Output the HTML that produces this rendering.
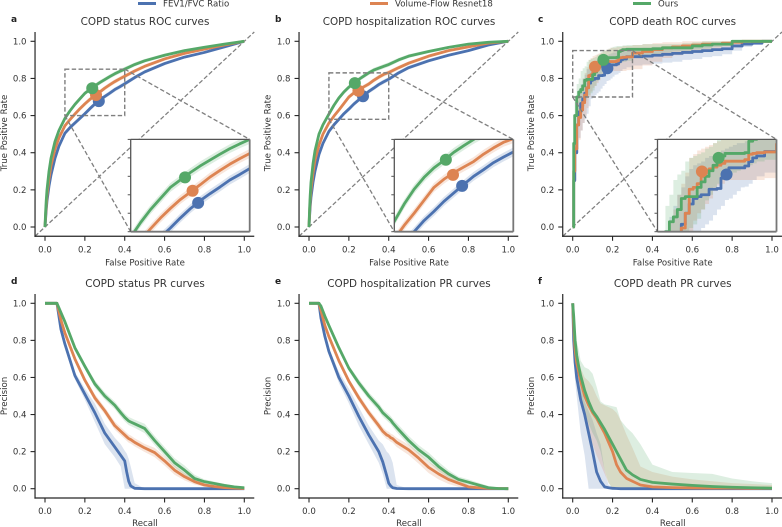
<!DOCTYPE html>
<html>
<head>
<meta charset="utf-8">
<title>COPD ROC and PR curves</title>
<style>
html,body{margin:0;padding:0;background:#fff;width:782px;height:527px;overflow:hidden}
svg{display:block;filter:blur(0.35px)}
text{font-family:"DejaVu Sans","Liberation Sans",sans-serif;fill:#333}
.title{font-size:10.4px;text-anchor:middle}
.axl{font-size:8.6px;text-anchor:middle}
.letter{font-size:9px;font-weight:bold;fill:#222}
.leg{font-size:8.6px}
.tick{font-size:8.6px}
</style>
</head>
<body>
<svg id="fig" xmlns="http://www.w3.org/2000/svg" width="782" height="527" viewBox="0 0 782 527">
<rect width="782" height="527" fill="#fff"/>
<g>
<line x1="138" x2="156" y1="3.5" y2="3.5" stroke="#4C72B0" stroke-width="3"/>
<text class="leg" x="163" y="6.5">FEV1/FVC Ratio</text>
<line x1="370" x2="388" y1="3.5" y2="3.5" stroke="#DD8452" stroke-width="3"/>
<text class="leg" x="395" y="6.5">Volume-Flow Resnet18</text>
<line x1="633" x2="651" y1="3.5" y2="3.5" stroke="#55A868" stroke-width="3"/>
<text class="leg" x="658" y="6.5">Ours</text>
</g>
<g id="plots"></g>
<text class="letter" x="11" y="22">a</text>
<text class="letter" x="275" y="22">b</text>
<text class="letter" x="538" y="22">c</text>
<text class="letter" x="11" y="284">d</text>
<text class="letter" x="275" y="284">e</text>
<text class="letter" x="538" y="284">f</text>
<text class="title" x="145" y="25">COPD status ROC curves</text>
<text class="title" x="409" y="25">COPD hospitalization ROC curves</text>
<text class="title" x="672.7" y="25">COPD death ROC curves</text>
<text class="title" x="145" y="287">COPD status PR curves</text>
<text class="title" x="409" y="287">COPD hospitalization PR curves</text>
<text class="title" x="672.7" y="287">COPD death PR curves</text>
<text class="axl" x="145" y="265.5">False Positive Rate</text>
<text class="axl" x="409" y="265.5">False Positive Rate</text>
<text class="axl" x="672.7" y="265.5">False Positive Rate</text>
<text class="axl" x="145" y="526">Recall</text>
<text class="axl" x="409" y="526">Recall</text>
<text class="axl" x="672.7" y="526">Recall</text>
<text class="axl" transform="translate(7,133) rotate(-90)">True Positive Rate</text>
<text class="axl" transform="translate(270.5,133) rotate(-90)">True Positive Rate</text>
<text class="axl" transform="translate(534,133) rotate(-90)">True Positive Rate</text>
<text class="axl" transform="translate(7,396) rotate(-90)">Precision</text>
<text class="axl" transform="translate(270.5,396) rotate(-90)">Precision</text>
<text class="axl" transform="translate(534,396) rotate(-90)">Precision</text>
</svg>
<script>
// ---------- tick labels ----------
const tickValues = [0, 0.2, 0.4, 0.6, 0.8, 1.0];
const tickLabels = ["0.0", "0.2", "0.4", "0.6", "0.8", "1.0"];

// ---------- panel a / b: ROC grid ----------
const rocGrid = [0,.003,.006,.01,.02,.03,.05,.07,.1,.125,.15,.175,.2,.225,.25,.275,.3,.325,.35,.375,.4,.45,.5,.6,.7,.8,.9,1];
const rocBandWidth = [0,.006,.008,.01,.012,.012,.012,.012,.012,.012,.012,.012,.012,.012,.012,.012,.012,.012,.012,.012,.012,.011,.01,.009,.007,.005,.003,0];

const rocABlue = [0,.045,.09,.14,.22,.28,.37,.435,.505,.535,.56,.585,.61,.637,.662,.684,.703,.721,.74,.755,.771,.805,.835,.88,.915,.94,.97,1];
const rocAOrange = [0,.06,.11,.17,.26,.33,.42,.48,.545,.578,.608,.637,.663,.687,.707,.727,.748,.766,.783,.798,.812,.84,.865,.905,.935,.958,.98,1];
const rocAGreen = [0,.08,.14,.2,.3,.37,.46,.52,.585,.625,.66,.69,.72,.74,.76,.778,.794,.81,.825,.838,.85,.875,.895,.925,.95,.968,.985,1];
const rocAMarkerFpr = [.27,.256,.237];
const rocAMarkerTpr = [.678,.711,.747];

const rocBBlue = [0,.06,.11,.16,.24,.3,.39,.45,.515,.55,.58,.61,.635,.662,.685,.708,.73,.748,.767,.782,.796,.83,.858,.895,.925,.95,.98,1];
const rocBOrange = [0,.08,.14,.2,.29,.36,.44,.5,.56,.597,.63,.665,.7,.722,.74,.755,.77,.79,.807,.822,.832,.858,.882,.92,.95,.97,.99,1];
const rocBGreen = [0,.1,.17,.24,.34,.41,.5,.55,.608,.655,.695,.727,.753,.773,.795,.813,.83,.845,.855,.865,.875,.9,.92,.945,.967,.985,.995,1];
const rocBMarkerFpr = [.271,.248,.23];
const rocBMarkerTpr = [.704,.734,.775];

// ---------- panel c: ROC (stepped) ----------
const rocCGrid = [0,.005,.01,.02,.03,.04,.05,.06,.07,.08,.09,.1,.11,.12,.13,.14,.15,.16,.17,.18,.19,.2,.21,.22,.23,.24,.25,.27,.3,.35,.4,.45,.5,.55,.6,.65,.7,.75,.8,.85,.9,.95,1];
const rocCBlue = [0,.25,.4,.55,.62,.665,.69,.72,.75,.775,.79,.795,.8,.8,.815,.815,.817,.845,.865,.873,.873,.873,.873,.878,.89,.9,.905,.917,.917,.92,.925,.93,.935,.94,.945,.95,.955,.96,.975,.985,.99,1,1];
const rocCBlueHi = [0,.4,.55,.68,.74,.77,.8,.82,.85,.87,.88,.885,.89,.9,.905,.905,.91,.92,.925,.93,.935,.94,.94,.945,.945,.95,.95,.955,.96,.965,.97,.97,.975,.975,.98,.985,.985,.99,.995,1,1,1,1];
const rocCBlueLo = [0,.12,.25,.4,.48,.52,.56,.58,.61,.65,.69,.7,.71,.72,.73,.745,.76,.77,.786,.79,.8,.81,.82,.822,.83,.84,.85,.86,.87,.875,.88,.885,.89,.9,.905,.915,.92,.93,.95,.97,.98,1,1];
const rocCOrange = [0,.3,.42,.55,.59,.63,.67,.71,.75,.815,.82,.83,.85,.865,.87,.875,.88,.885,.891,.891,.891,.891,.891,.895,.91,.912,.914,.916,.937,.945,.955,.965,.97,.975,.98,.985,.985,.99,.995,1,1,1,1];
const rocCOrangeHi = [0,.42,.55,.7,.73,.76,.8,.83,.86,.9,.91,.92,.925,.93,.935,.94,.945,.95,.955,.96,.965,.965,.965,.97,.97,.97,.975,.975,.98,.985,.99,.995,.995,1,1,1,1,1,1,1,1,1,1];
const rocCOrangeLo = [0,.2,.3,.42,.47,.52,.56,.6,.64,.7,.73,.75,.76,.775,.79,.81,.825,.83,.84,.84,.84,.84,.84,.84,.84,.84,.84,.845,.85,.87,.89,.91,.925,.94,.945,.95,.96,.97,.98,1,1,1,1];
const rocCGreen = [0,.45,.6,.7,.727,.74,.76,.79,.795,.795,.795,.82,.835,.85,.865,.88,.9,.905,.912,.912,.912,.912,.912,.914,.945,.95,.955,.957,.957,.957,.96,.965,.965,.965,.975,.98,.985,.985,1,1,1,1,1];
const rocCGreenHi = [0,.55,.68,.77,.8,.84,.855,.865,.89,.9,.905,.91,.915,.925,.93,.94,.95,.95,.955,.96,.965,.97,.972,.975,.975,.975,.978,.98,.98,.985,.985,.985,.985,.99,.995,1,1,1,1,1,1,1,1];
const rocCGreenLo = [0,.3,.45,.55,.6,.62,.65,.68,.7,.71,.72,.735,.76,.785,.8,.82,.83,.84,.85,.855,.86,.865,.87,.875,.88,.885,.89,.895,.91,.92,.93,.94,.945,.945,.955,.96,.97,.975,1,1,1,1,1];
const rocCMarkerFpr = [.174,.112,.154];
const rocCMarkerTpr = [.855,.863,.9];

// ---------- panel d: PR ----------
const prDGrid = [0,.02,.04,.06,.08,.1,.15,.2,.25,.3,.35,.38,.4,.41,.42,.43,.45,.5,.55,.6,.65,.7,.75,.8,.85,.9,.95,1];
const prDBlue = [1,1,1,1,.86,.78,.61,.51,.41,.3,.225,.18,.15,.09,.04,.015,.002,0,0,0,0,0,0,0,0,0,0,0];
const prDBlueHi = [1,1,1,1,.87,.8,.63,.54,.46,.35,.275,.24,.205,.19,.16,.12,.03,0,0,0,0,0,0,0,0,0,0,0];
const prDBlueLo = [1,1,1,1,.85,.76,.59,.48,.36,.24,.17,.12,0,0,0,0,0,0,0,0,0,0,0,0,0,0,0,0];
const prDOrange = [1,1,1,1,.91,.84,.7,.585,.49,.42,.34,.31,.29,.28,.27,.265,.25,.22,.195,.15,.1,.065,.038,.02,.012,.006,.003,.001];
const prDOrangeBand = [0,0,0,.002,.01,.012,.015,.015,.02,.02,.022,.022,.022,.022,.022,.022,.022,.022,.025,.025,.025,.02,.015,.01,.006,.004,.002,.001];
const prDGreen = [1,1,1,1,.95,.9,.76,.66,.565,.5,.45,.41,.385,.375,.365,.36,.35,.325,.26,.2,.14,.1,.055,.038,.028,.018,.01,.005];
const prDGreenBand = [0,0,0,.002,.01,.012,.015,.015,.02,.02,.02,.022,.022,.022,.022,.022,.022,.025,.025,.025,.025,.025,.02,.012,.01,.008,.005,.003];

// ---------- panel e: PR ----------
const prEGrid = [0,.02,.04,.05,.06,.08,.1,.15,.2,.25,.3,.35,.37,.39,.4,.41,.42,.44,.5,.55,.6,.65,.7,.75,.8,.85,.9,.95,1];
const prEBlue = [1,1,1,1,.92,.82,.74,.6,.5,.39,.29,.2,.145,.07,.03,.015,.005,.001,0,0,0,0,0,0,0,0,0,0,0];
const prEBlueHi = [1,1,1,1,.93,.84,.76,.63,.54,.44,.34,.26,.24,.2,.19,.17,.14,.02,0,0,0,0,0,0,0,0,0,0,0];
const prEBlueLo = [1,1,1,1,.91,.8,.72,.57,.46,.34,.24,.14,.08,0,0,0,0,0,0,0,0,0,0,0,0,0,0,0,0];
const prEOrange = [1,1,1,1,.96,.88,.82,.69,.58,.49,.41,.34,.31,.29,.285,.275,.27,.25,.21,.165,.115,.08,.05,.03,.01,.005,.002,.001,0];
const prEOrangeBand = [0,0,0,0,.005,.01,.012,.015,.015,.02,.02,.022,.022,.022,.022,.022,.022,.025,.028,.03,.03,.03,.025,.02,.01,.005,.003,.001,0];
const prEGreen = [1,1,1,1,.985,.93,.88,.76,.65,.57,.5,.44,.41,.39,.38,.37,.355,.33,.26,.21,.17,.12,.08,.05,.035,.02,.005,.001,0];
const prEGreenBand = [0,0,0,0,.005,.01,.012,.015,.015,.02,.02,.022,.022,.022,.022,.022,.022,.025,.025,.025,.025,.025,.02,.015,.015,.012,.01,.005,.002];

// ---------- panel f: PR ----------
const prFGrid = [0,.005,.012,.02,.03,.04,.06,.08,.1,.12,.14,.16,.18,.2,.22,.24,.27,.3,.34,.4,.5,.6,.7,.8,.9,1];
const prFBlue = [1,.8,.68,.6,.54,.48,.4,.3,.2,.09,.04,.01,.005,.002,.001,0,0,0,0,0,0,0,0,0,0,0];
const prFBlueHi = [1,.85,.75,.68,.6,.55,.47,.42,.37,.3,.24,.1,.02,.01,0,0,0,0,0,0,0,0,0,0,0,0];
const prFBlueLo = [1,.72,.58,.5,.4,.3,.18,0,0,0,0,0,0,0,0,0,0,0,0,0,0,0,0,0,0,0];
const prFOrange = [1,.88,.75,.68,.63,.58,.5,.45,.41,.38,.34,.3,.25,.2,.13,.09,.056,.04,.02,.01,.006,.004,.003,.003,.002,.002];
const prFOrangeHi = [1,.92,.82,.75,.7,.65,.6,.58,.55,.5,.46,.45,.44,.43,.41,.37,.29,.22,.12,.09,.065,.05,.04,.03,.025,.02];
const prFOrangeLo = [1,.8,.65,.55,.5,.45,.38,.3,.24,.18,.13,.08,.03,.005,0,0,0,0,0,0,0,0,0,0,0,0];
const prFGreen = [1,.93,.8,.72,.66,.61,.53,.47,.42,.39,.355,.32,.28,.24,.2,.16,.1,.075,.05,.034,.025,.018,.012,.008,.005,.003];
const prFGreenHi = [1,.95,.865,.8,.75,.69,.655,.645,.62,.55,.47,.455,.45,.445,.44,.37,.33,.3,.24,.13,.09,.085,.08,.055,.04,.03];
const prFGreenLo = [1,.85,.7,.62,.55,.5,.42,.35,.3,.26,.2,.1,.03,0,0,0,0,0,0,0,0,0,0,0,0,0];

// ---------- rendering ----------
const NS = "http://www.w3.org/2000/svg";
const root = document.getElementById("plots");
const BLUE = "#4C72B0", ORANGE = "#DD8452", GREEN = "#55A868";
const COLORS = [BLUE, ORANGE, GREEN];
const COLOR_NAMES = ["fev1-fvc", "volume-flow", "ours"];
const UNIT_X = 199.3, UNIT_ROC = 185.7, UNIT_PR = 185.4;

function mk(parent, tag, attrs, text) {
  const e = document.createElementNS(NS, tag);
  for (const k in attrs) e.setAttribute(k, attrs[k]);
  if (text !== undefined) e.textContent = text;
  parent.appendChild(e);
  return e;
}
function pointsFor(xs, ys, step, sx, sy) {
  const pts = [];
  for (let i = 0; i < xs.length; i++) {
    if (step && i > 0) pts.push([sx(xs[i]), sy(ys[i - 1])]);
    pts.push([sx(xs[i]), sy(ys[i])]);
  }
  return pts;
}
function toPath(pts) {
  return pts.map((p, i) => (i ? "L" : "M") + p[0].toFixed(2) + " " + p[1].toFixed(2)).join("");
}
function drawSeries(parent, key, xs, list, step, sx, sy, prefix) {
  list.forEach((s, i) => {
    const lo = s.lo || s.y.map((v, j) => Math.max(0, v - s.w[j]));
    const hi = s.hi || s.y.map((v, j) => Math.min(1, v + s.w[j]));
    const top = pointsFor(xs, hi, step, sx, sy);
    const bottom = pointsFor(xs, lo, step, sx, sy).reverse();
    const band = mk(parent, "path", { d: toPath(top.concat(bottom)) + "Z", fill: COLORS[i], "fill-opacity": 0.2, stroke: "none" });
    
    
  });
  list.forEach((s, i) => {
    const line = mk(parent, "path", { d: toPath(pointsFor(xs, s.y, step, sx, sy)), fill: "none", stroke: COLORS[i], "stroke-width": 2.8, "stroke-linejoin": "round" });
    
    
  });
}
function drawMarkers(parent, key, fpr, tpr, sx, sy, prefix) {
  fpr.forEach((v, i) => {
    const m = mk(parent, "circle", { cx: sx(v), cy: sy(tpr[i]), r: 6, fill: COLORS[i] });
    
    
  });
}
function drawAxes(g, key, L, y0, unitY) {
  const left = L - 0.05 * UNIT_X, right = L + 1.05 * UNIT_X;
  const bottom = y0 + 0.05 * unitY, top = y0 - 1.05 * unitY;
  const ySpine = mk(g, "line", { x1: left, x2: left, y1: top, y2: bottom + 0.6, stroke: "#262626", "stroke-width": 1.2 });
  
  
  const xSpine = mk(g, "line", { x1: left - 0.6, x2: right, y1: bottom, y2: bottom, stroke: "#262626", "stroke-width": 1.2 });
  
  
  tickValues.forEach((v, i) => {
    const px = L + v * UNIT_X, py = y0 - v * unitY;
    const xt = mk(g, "line", { x1: px, x2: px, y1: bottom, y2: bottom + 4.5, stroke: "#262626", "stroke-width": 1.1 });
    
    
    const yt = mk(g, "line", { x1: left - 4.5, x2: left, y1: py, y2: py, stroke: "#262626", "stroke-width": 1.1 });
    
    
    const xl = mk(g, "text", { class: "tick", x: px, y: bottom + 16, "text-anchor": "middle" }, tickLabels[i]);
    
    
    const yl = mk(g, "text", { class: "tick", x: left - 8.5, y: py + 3, "text-anchor": "end" }, tickLabels[i]);
    
    
  });
}
function drawROC(key, L, xs, list, step, box, fpr, tpr, insetL) {
  const y0 = 227;
  const g = mk(root, "g", {});
  
  
  const sx = v => L + v * UNIT_X;
  const sy = v => y0 - v * UNIT_ROC;
  const DASH = "#7f7f7f";
  const diag = mk(g, "line", { x1: sx(-0.05), y1: sy(-0.05), x2: sx(1.05), y2: sy(1.05), stroke: DASH, "stroke-width": 1.3, "stroke-dasharray": "4.4 2.2" });
  
  
  drawSeries(g, key, xs, list, step, sx, sy, 'roc');
  drawMarkers(g, key, fpr, tpr, sx, sy, 'roc');
  drawAxes(g, key, L, y0, UNIT_ROC);

  const I = { l: insetL, r: insetL + 119, t: 139.4, b: 231.7 };
  const zx = v => I.l + (v - box[0]) / (box[1] - box[0]) * (I.r - I.l);
  const zy = v => I.b - (v - box[2]) / (box[3] - box[2]) * (I.b - I.t);

  const rect = mk(g, "rect", { x: sx(box[0]), y: sy(box[3]), width: sx(box[1]) - sx(box[0]), height: sy(box[2]) - sy(box[3]), fill: "none", stroke: DASH, "stroke-width": 1.4, "stroke-dasharray": "4.4 2.4" });
  
  

  const bg = mk(g, "rect", { x: I.l, y: I.t, width: I.r - I.l, height: I.b - I.t, fill: "#fff" });
  
  

  const c1 = mk(g, "line", { x1: sx(box[0]), y1: sy(box[2]), x2: I.l, y2: I.b, stroke: DASH, "stroke-width": 1.3, "stroke-dasharray": "4.4 2.4" });
  
  
  const c2 = mk(g, "line", { x1: sx(box[1]), y1: sy(box[3]), x2: I.r, y2: I.t, stroke: DASH, "stroke-width": 1.3, "stroke-dasharray": "4.4 2.4" });
  
  

  const clip = mk(g, "clipPath", { id: "clip-" + key });
  mk(clip, "rect", { x: I.l, y: I.t, width: I.r - I.l, height: I.b - I.t });
  const ig = mk(g, "g", { "clip-path": "url(#clip-" + key + ")" });
  
  
  drawSeries(ig, key, xs, list, step, zx, zy, 'inset');
  drawMarkers(ig, key, fpr, tpr, zx, zy, 'inset');

  for (let k = 0; k <= 5; k++) {
    const py = I.t + k * (I.b - I.t) / 5;
    const t = mk(g, "line", { x1: I.l - 3, x2: I.l, y1: py, y2: py, stroke: "#555", "stroke-width": 1 });
    
    
  }
  const sides = [
    ["left", I.l, I.t, I.l, I.b, "#555", 1.3],
    ["top", I.l, I.t, I.r, I.t, "#555", 1.3],
    ["right", I.r, I.t, I.r, I.b, "#777", 1.8],
    ["bottom", I.l, I.b, I.r, I.b, "#777", 1.8]
  ];
  sides.forEach(s => {
    const b = mk(g, "line", { x1: s[1], y1: s[2], x2: s[3], y2: s[4], stroke: s[5], "stroke-width": s[6] });
    
    
  });
}
function drawPR(key, L, xs, list) {
  const y0 = 488.7;
  const g = mk(root, "g", {});
  
  
  const sx = v => L + v * UNIT_X;
  const sy = v => y0 - v * UNIT_PR;
  drawSeries(g, key, xs, list, false, sx, sy, 'pr');
  drawAxes(g, key, L, y0, UNIT_PR);
}

drawROC("a", 45, rocGrid, [
  { y: rocABlue, w: rocBandWidth }, { y: rocAOrange, w: rocBandWidth }, { y: rocAGreen, w: rocBandWidth }
], false, [.1, .4, .6, .85], rocAMarkerFpr, rocAMarkerTpr, 130.7);
drawROC("b", 309, rocGrid, [
  { y: rocBBlue, w: rocBandWidth }, { y: rocBOrange, w: rocBandWidth }, { y: rocBGreen, w: rocBandWidth }
], false, [.1, .4, .58, .83], rocBMarkerFpr, rocBMarkerTpr, 394.3);
drawROC("c", 572.7, rocCGrid, [
  { y: rocCBlue, lo: rocCBlueLo, hi: rocCBlueHi }, { y: rocCOrange, lo: rocCOrangeLo, hi: rocCOrangeHi }, { y: rocCGreen, lo: rocCGreenLo, hi: rocCGreenHi }
], true, [0, .3, .7, .95], rocCMarkerFpr, rocCMarkerTpr, 657.5);
drawPR("d", 45, prDGrid, [
  { y: prDBlue, lo: prDBlueLo, hi: prDBlueHi }, { y: prDOrange, w: prDOrangeBand }, { y: prDGreen, w: prDGreenBand }
]);
drawPR("e", 309, prEGrid, [
  { y: prEBlue, lo: prEBlueLo, hi: prEBlueHi }, { y: prEOrange, w: prEOrangeBand }, { y: prEGreen, w: prEGreenBand }
]);
drawPR("f", 572.7, prFGrid, [
  { y: prFBlue, lo: prFBlueLo, hi: prFBlueHi }, { y: prFOrange, lo: prFOrangeLo, hi: prFOrangeHi }, { y: prFGreen, lo: prFGreenLo, hi: prFGreenHi }
]);
</script>
</body>
</html>
